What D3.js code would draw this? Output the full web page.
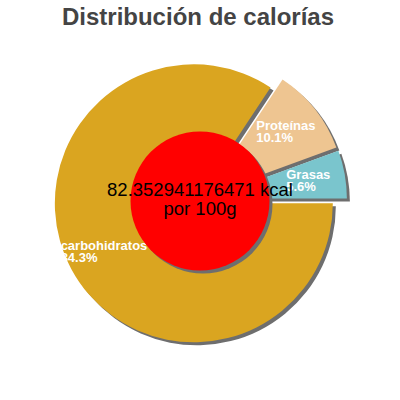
<!DOCTYPE html>
<html><head><meta charset="utf-8">
<script src="https://cdn.jsdelivr.net/npm/d3@7"></script>
<style>body{margin:0;background:#fff}svg{display:block}</style>
</head><body>
<svg id="c" width="400" height="400"></svg>
<script>
const title = "Distribución de calorías";
const categories = ["Grasas", "Proteínas", "carbohidratos"];
const values = [5.6, 10.1, 84.3];
const colors = ["#7AC5CD", "#EEC591", "#DAA520"];
const centerLines = ["82.352941176471 kcal", "por 100g"];

const svg = d3.select("#c");
const font = "'Liberation Sans', Arial, sans-serif";
const cx = 200, cy = 200, R = 139;
const explode = [8, 7.5, 7];
const shadow = {dx: 3, dy: 3, color: "#6e6e6e"};

svg.append("text")
  .attr("x", 198).attr("y", 25)
  .attr("text-anchor", "middle")
  .style("font-family", font).style("font-weight", "bold").style("font-size", "24px")
  .attr("fill", "#444")
  .text(title);

const data = categories.map((c, i) => ({name: c, value: values[i], color: colors[i], ex: explode[i]}));
const pie = d3.pie().sort(null).value(d => d.value)
  .startAngle(Math.PI / 2).endAngle(Math.PI / 2 - 2 * Math.PI);
const arcs = pie(data);
const arc = d3.arc().innerRadius(0).outerRadius(R);
const dir = a => [Math.sin(a), -Math.cos(a)];
arcs.forEach(d => {
  const m = (d.startAngle + d.endAngle) / 2;
  const [ux, uy] = dir(m);
  d.ox = cx + ux * d.data.ex;
  d.oy = cy + uy * d.data.ex;
  d.ux = ux; d.uy = uy;
});

const g = svg.append("g");
g.selectAll("path.sh").data(arcs).join("path")
  .attr("class", "sh")
  .attr("transform", d => `translate(${d.ox + shadow.dx},${d.oy + shadow.dy})`)
  .attr("d", arc).attr("fill", shadow.color);
g.selectAll("path.sl").data(arcs).join("path")
  .attr("class", "sl")
  .attr("transform", d => `translate(${d.ox},${d.oy})`)
  .attr("d", arc).attr("fill", d => d.data.color);

const total = d3.sum(values);
const labR = 102;
arcs.forEach(d => {
  const lx = d.ox + d.ux * labR, ly = d.oy + d.uy * labR;
  const lg = svg.append("g");
  const lines = [d.data.name, (d.data.value / total * 100).toFixed(1) + "%"];
  const ts = lines.map((t, i) => lg.append("text")
    .attr("y", ly - 2 + i * 12)
    .style("font-family", font).style("font-weight", "bold").style("font-size", "13px")
    .attr("fill", "#fff").text(t));
  const w = d3.max(ts, t => t.node().getComputedTextLength());
  ts.forEach(t => t.attr("x", lx - w / 2));
});

svg.append("circle").attr("cx", cx + shadow.dx).attr("cy", cy + 1 + shadow.dy).attr("r", R / 2)
  .attr("fill", shadow.color);
svg.append("circle").attr("cx", cx).attr("cy", cy + 1).attr("r", R / 2).attr("fill", "#FF0000");

centerLines.forEach((t, i) => {
  svg.append("text").attr("x", cx).attr("y", 196 + i * 19)
    .attr("text-anchor", "middle")
    .style("font-family", font).style("font-size", "18.5px")
    .attr("fill", "#000").text(t);
});
</script>
</body></html>
